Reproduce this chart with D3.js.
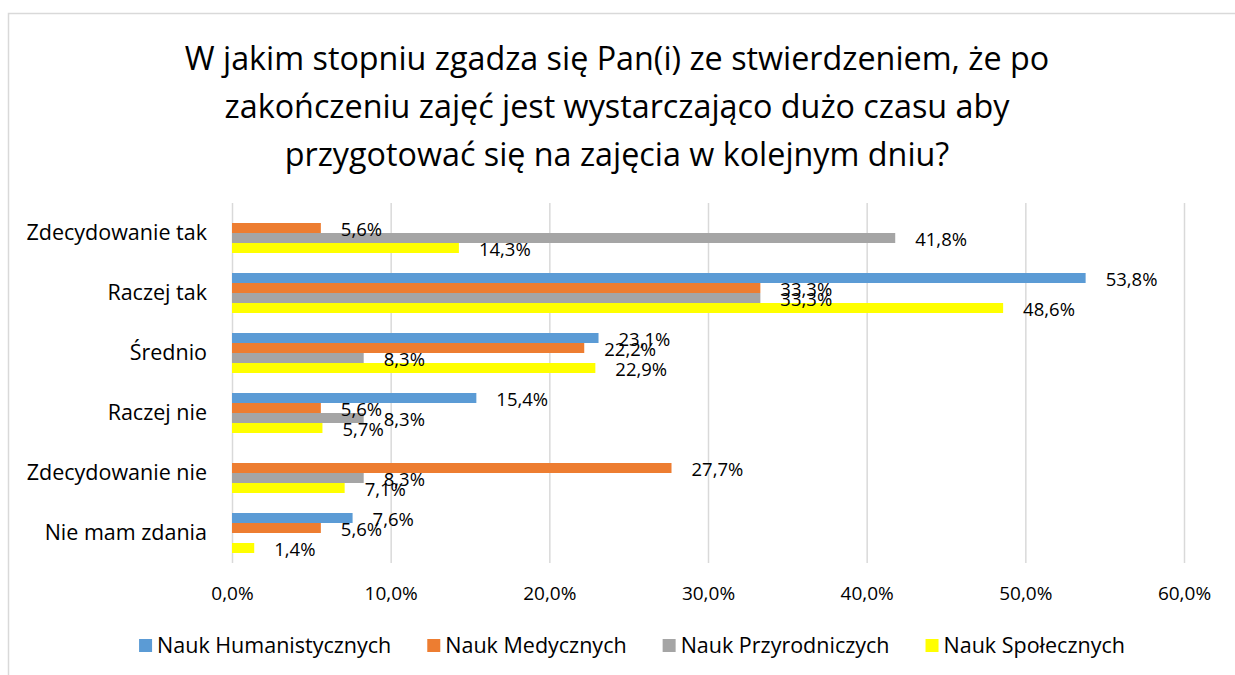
<!DOCTYPE html>
<html>
<head>
<meta charset="utf-8">
<script src="https://cdn.jsdelivr.net/npm/d3@7"></script>
<style>
  body { margin: 0; background: #fff; }
  svg { display: block; font-family: 'Open Sans', sans-serif; }
</style>
</head>
<body>
<div id="canvas"></div>
<script>
var categories = ['Zdecydowanie tak', 'Raczej tak', 'Średnio', 'Raczej nie', 'Zdecydowanie nie', 'Nie mam zdania'];
var series = ['Nauk Humanistycznych', 'Nauk Medycznych', 'Nauk Przyrodniczych', 'Nauk Społecznych'];
var colors = ['#5b9bd5', '#ed7d31', '#a5a5a5', '#ffff00'];

// values in %, 0 = no bar
var humanist = [0, 53.8, 23.1, 15.4, 0, 7.6];
var medical  = [5.6, 33.3, 22.2, 5.6, 27.7, 5.6];
var natural  = [41.8, 33.3, 8.3, 8.3, 8.3, 0];
var social   = [14.3, 48.6, 22.9, 5.7, 7.1, 1.4];
var xTicks = [0, 10, 20, 30, 40, 50, 60];

var titleLines = [
  'W jakim stopniu zgadza się Pan(i) ze stwierdzeniem, że po',
  'zakończeniu zajęć jest wystarczająco dużo czasu aby',
  'przygotować się na zajęcia w kolejnym dniu?'
];

var values = [humanist, medical, natural, social];
var rows = [];
values.forEach(function(arr, s) {
  arr.forEach(function(v, c) {
    rows.push({ cat: categories[c], ser: series[s], si: s, v: v });
  });
});

var W = 1235, H = 675;
var m = { t: 203, r: 51, b: 112, l: 232 };

var svg = d3.select('#canvas').append('svg')
  .attr('width', W).attr('height', H);

svg.append('rect')
  .attr('x', 8.5).attr('y', 13.5)
  .attr('width', 1240).attr('height', 700)
  .attr('fill', '#fff').attr('stroke', '#d9d9d9').attr('stroke-width', 1.5);

var loc = d3.formatLocale({ decimal: ',', thousands: ' ', grouping: [3], currency: ['', ''] });
var fmt = loc.format('.1f');

var x = d3.scaleLinear().domain([0, 60]).range([m.l, W - m.r]);
var y = d3.scaleBand().domain(categories).range([m.t, H - m.b])
  .paddingInner(1 / 3).paddingOuter(1 / 6);
var y1 = d3.scaleBand().domain(series).range([0, y.bandwidth()]);

// title
svg.append('g').selectAll('text')
  .data(titleLines).enter().append('text')
  .attr('x', 617).attr('y', function(d, i) { return 70 + i * 48; })
  .attr('text-anchor', 'middle')
  .attr('font-size', 32.3).attr('fill', '#000')
  .text(function(d) { return d; });

// grid
var axisX = d3.axisBottom(x).tickValues(xTicks)
  .tickSize(-(H - m.b - m.t)).tickPadding(24)
  .tickFormat(function(d) { return fmt(d) + '%'; });

var gx = svg.append('g').attr('class', 'axis-x')
  .attr('transform', 'translate(0,' + (H - m.b) + ')')
  .call(axisX);
gx.select('.domain').remove();
gx.selectAll('line').attr('stroke', '#d9d9d9').attr('stroke-width', 1.5);
gx.selectAll('text').attr('font-size', 19).attr('fill', '#000')
  .attr('font-family', 'Open Sans');

// bars
var plot = svg.append('g');
plot.selectAll('rect.bar')
  .data(rows.filter(function(d) { return d.v > 0; }))
  .enter().append('rect')
  .attr('class', 'bar')
  .attr('x', x(0))
  .attr('y', function(d) { return y(d.cat) + y1(d.ser); })
  .attr('width', function(d) { return x(d.v) - x(0); })
  .attr('height', y1.bandwidth())
  .attr('fill', function(d) { return colors[d.si]; });

// data labels
plot.selectAll('text.lbl')
  .data(rows.filter(function(d) { return d.v > 0; }))
  .enter().append('text')
  .attr('class', 'lbl')
  .attr('x', function(d) { return x(d.v) + 20; })
  .attr('y', function(d) { return y(d.cat) + y1(d.ser) + y1.bandwidth() / 2; })
  .attr('dy', '0.42em')
  .attr('font-size', 18.5).attr('fill', '#000')
  .text(function(d) { return fmt(d.v) + '%'; });

// category labels
var axisY = d3.axisLeft(y).tickSize(0).tickPadding(25);
var gy = svg.append('g').attr('transform', 'translate(' + m.l + ',0)').call(axisY);
gy.select('.domain').remove();
gy.selectAll('text').attr('font-size', 21.5).attr('fill', '#000')
  .attr('font-family', 'Open Sans');

// legend
var leg = svg.append('g');
var items = leg.selectAll('g').data(series).enter().append('g');
items.append('rect').attr('width', 13).attr('height', 13).attr('y', -14)
  .attr('fill', function(d, i) { return colors[i]; });
items.append('text').attr('x', 18).attr('y', 0)
  .attr('font-size', 21.5).attr('fill', '#000')
  .text(function(d) { return d; });
var gap = 36, pos = [], cx = 0;
items.each(function() {
  pos.push(cx);
  cx += 18 + d3.select(this).select('text').node().getComputedTextLength() + gap;
});
var total = cx - gap, start = 632 - total / 2;
items.attr('transform', function(d, i) { return 'translate(' + (start + pos[i]) + ',653)'; });
</script>
</body>
</html>
